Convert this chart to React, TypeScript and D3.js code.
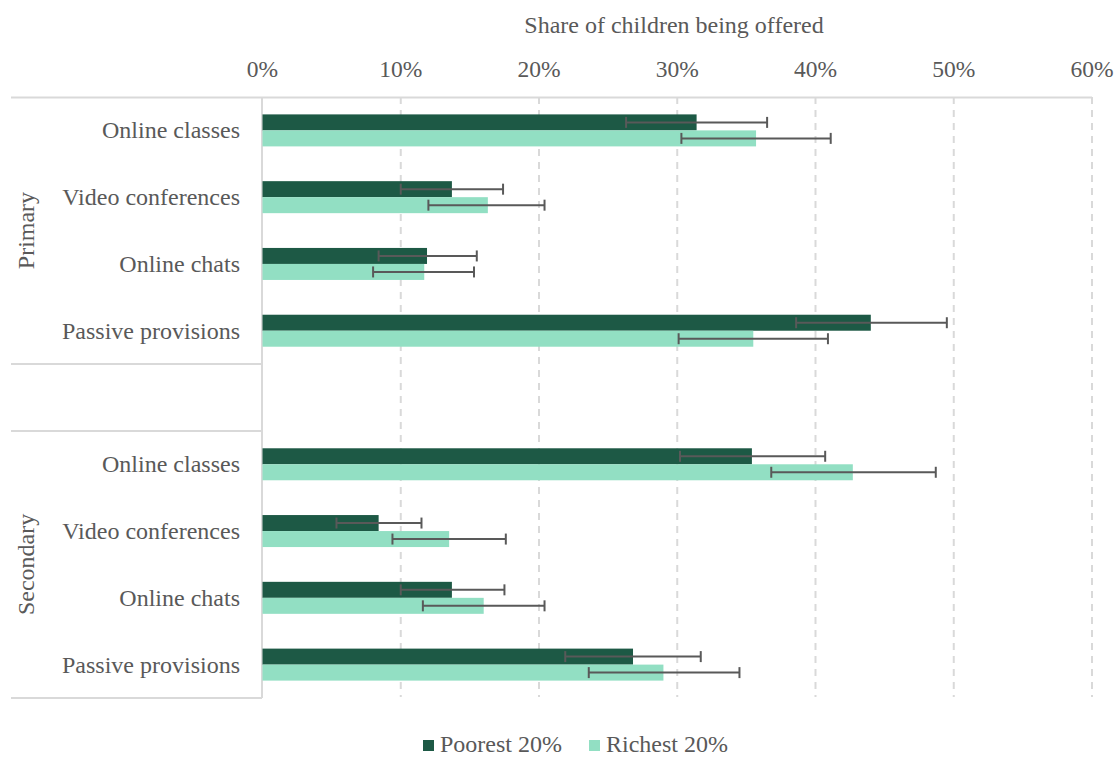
import React from "react";
import * as d3 from "d3";

const groups = ["Primary", "Secondary"];
const categories = ["Online classes", "Video conferences", "Online chats", "Passive provisions"];
const seriesNames = ["Poorest 20%", "Richest 20%"];
const seriesColors = ["#1d5945", "#92dfc3"];
const xTicks = [0, 0.1, 0.2, 0.3, 0.4, 0.5, 0.6];

// values per group, per category
const poorest = [
  [0.314, 0.137, 0.119, 0.44],
  [0.354, 0.084, 0.137, 0.268],
];
const poorestLow = [
  [0.263, 0.1, 0.084, 0.386],
  [0.302, 0.0535, 0.1, 0.219],
];
const poorestHigh = [
  [0.365, 0.174, 0.155, 0.495],
  [0.407, 0.115, 0.175, 0.317],
];
const richest = [
  [0.357, 0.163, 0.117, 0.355],
  [0.427, 0.135, 0.16, 0.29],
];
const richestLow = [
  [0.303, 0.12, 0.08, 0.301],
  [0.368, 0.094, 0.116, 0.236],
];
const richestHigh = [
  [0.411, 0.204, 0.153, 0.409],
  [0.487, 0.176, 0.204, 0.345],
];

const W = 1117;
const H = 758;
const FONT = "Liberation Serif";
const TXT = "#595959";
const GRID = "#d9d9d9";
const FS = 24;

export default function App() {
  const x = d3.scaleLinear().domain([0, 0.6]).range([262.5, 1092]);
  const slots: string[] = [];
  categories.forEach((c) => slots.push("P|" + c));
  slots.push("gap");
  categories.forEach((c) => slots.push("S|" + c));
  const y = d3.scaleBand<string>().domain(slots).range([97, 698]).padding(0);
  const barH = 16;
  const capH = 11;

  const rows: any[] = [];
  groups.forEach((g, gi) => {
    categories.forEach((c, ci) => {
      const key = (gi === 0 ? "P|" : "S|") + c;
      const cy = (y(key) as number) + y.bandwidth() / 2;
      rows.push({
        key,
        c,
        cy,
        vals: [poorest[gi][ci], richest[gi][ci]],
        lo: [poorestLow[gi][ci], richestLow[gi][ci]],
        hi: [poorestHigh[gi][ci], richestHigh[gi][ci]],
      });
    });
  });

  const primTop = y("P|" + categories[0]) as number;
  const primBot = (y("P|" + categories[3]) as number) + y.bandwidth();
  const secTop = y("S|" + categories[0]) as number;
  const secBot = (y("S|" + categories[3]) as number) + y.bandwidth();
  const ts = { fontFamily: FONT } as React.CSSProperties;

  return (
    <svg
      width={W}
      height={H}
      style={{ position: "fixed", left: 0, top: 0, background: "#fff", fontFamily: FONT }}
    >
      <rect x={0} y={0} width={W} height={H} fill="#fff" />
      {/* title */}
      <text x={674} y={33} textAnchor="middle" fontSize={FS} fill={TXT} style={ts}>
        Share of children being offered
      </text>
      {/* tick labels */}
      {xTicks.map((t) => (
        <text key={t} x={x(t)} y={77} textAnchor="middle" fontSize={23.5} fill={TXT} style={ts}>
          {d3.format(".0%")(t)}
        </text>
      ))}
      {/* gridlines */}
      {xTicks.slice(1).map((t) => (
        <line
          key={"g" + t}
          x1={x(t)}
          x2={x(t)}
          y1={97}
          y2={697}
          stroke={GRID}
          strokeWidth={2}
          strokeDasharray="7,6"
        />
      ))}
      {/* top axis line */}
      <line x1={11} x2={x(0.6)} y1={97.5} y2={97.5} stroke={GRID} strokeWidth={2} />
      <line x1={x(0.6)} x2={x(0.6)} y1={97} y2={103} stroke={GRID} strokeWidth={2} />
      {/* category axis */}
      <line x1={262} x2={262} y1={97} y2={698} stroke={GRID} strokeWidth={2} />
      {[primBot, secTop, secBot].map((yy, i) => (
        <line key={"s" + i} x1={11} x2={262} y1={yy} y2={yy} stroke={GRID} strokeWidth={2} />
      ))}
      {/* group labels */}
      <text
        transform={`translate(34,${(primTop + primBot) / 2}) rotate(-90)`}
        textAnchor="middle"
        fontSize={FS}
        fill={TXT}
        style={ts}
      >
        {groups[0]}
      </text>
      <text
        transform={`translate(34,${(secTop + secBot) / 2}) rotate(-90)`}
        textAnchor="middle"
        fontSize={FS}
        fill={TXT}
        style={ts}
      >
        {groups[1]}
      </text>
      {/* rows */}
      {rows.map((r) => (
        <g key={r.key}>
          <text x={240} y={r.cy + 8} textAnchor="end" fontSize={FS} fill={TXT} style={ts}>
            {r.c}
          </text>
          {r.vals.map((v: number, si: number) => (
            <rect
              key={si}
              x={x(0)}
              y={r.cy - barH + si * barH}
              width={x(v) - x(0)}
              height={barH}
              fill={seriesColors[si]}
            />
          ))}
          {r.vals.map((v: number, si: number) => {
            const yy = r.cy - barH / 2 + si * barH;
            return (
              <g key={"e" + si} stroke="#595959" strokeWidth={2}>
                <line x1={x(r.lo[si])} x2={x(r.hi[si])} y1={yy} y2={yy} />
                <line x1={x(r.lo[si])} x2={x(r.lo[si])} y1={yy - capH / 2} y2={yy + capH / 2} />
                <line x1={x(r.hi[si])} x2={x(r.hi[si])} y1={yy - capH / 2} y2={yy + capH / 2} />
              </g>
            );
          })}
        </g>
      ))}
      {/* legend */}
      {seriesNames.map((s, i) => {
        const lx = i === 0 ? 423 : 589;
        return (
          <g key={s}>
            <rect x={lx} y={740} width={11} height={11} fill={seriesColors[i]} />
            <text x={lx + 17} y={752} fontSize={FS} fill={TXT} style={ts}>
              {s}
            </text>
          </g>
        );
      })}
    </svg>
  );
}
